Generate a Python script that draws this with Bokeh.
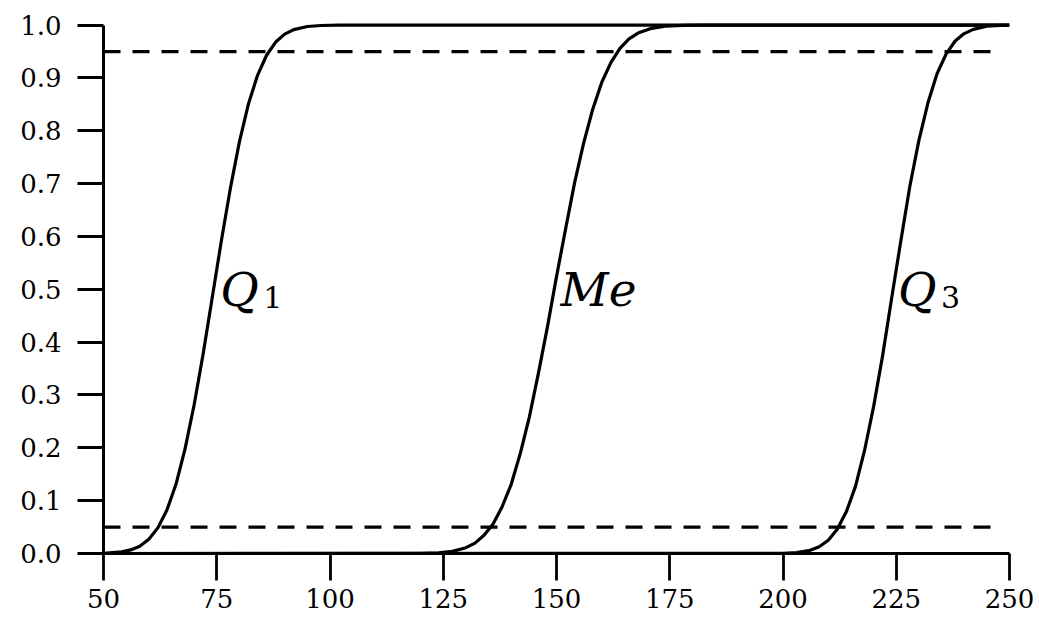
from bokeh.plotting import figure
from bokeh.models import Range1d, FixedTicker, ColumnDataSource
from bokeh.embed import file_html
from bokeh.resources import INLINE
from bokeh.core.properties import value

# Sampling distributions of the first quartile, median and third quartile
q1_x = [50, 54, 56, 58, 60, 62, 64, 66, 68, 70, 72, 74, 76, 78, 80, 82, 84,
        86, 88, 90, 92, 95, 98, 102, 250]
q1_p = [0.0005, 0.003, 0.0068, 0.0139, 0.0268, 0.0485, 0.0823, 0.131, 0.198,
        0.281, 0.378, 0.484, 0.591, 0.691, 0.779, 0.851, 0.905, 0.943, 0.968,
        0.983, 0.9916, 0.9974, 0.9993, 1.0, 1.0]

me_x = [50, 120, 124, 127, 130, 132, 134, 136, 138, 140, 142, 144, 146, 148,
        150, 152, 154, 156, 158, 160, 162, 164, 166, 168, 171, 174, 178, 182, 250]
me_p = [0.0, 0.0003, 0.0013, 0.004, 0.011, 0.0197, 0.0344, 0.0559, 0.0885,
        0.131, 0.189, 0.258, 0.341, 0.429, 0.524, 0.614, 0.702, 0.777, 0.841,
        0.892, 0.929, 0.956, 0.974, 0.985, 0.994, 0.998, 0.9996, 1.0, 1.0]

q3_x = [50, 196, 200, 203, 206, 208, 210, 212, 214, 216, 218, 220, 222, 224,
        226, 228, 230, 232, 234, 236, 238, 240, 242, 245, 248, 250]
q3_p = [0.0, 0.0001, 0.0004, 0.0018, 0.006, 0.0129, 0.025, 0.0465, 0.0793,
        0.127, 0.195, 0.278, 0.375, 0.484, 0.591, 0.695, 0.782, 0.853, 0.908,
        0.945, 0.970, 0.984, 0.992, 0.998, 0.9994, 0.9998]

# Reference probability levels (dashed)
band_levels = [0.05, 0.95]
band_from = [50, 50]
band_to = [246, 246]

# Curve labels, anchored where each curve crosses 0.5
label_text = ["Q", "Me", "Q"]
label_x = [75.8, 150.9, 225.4]
label_y = [0.5, 0.5, 0.5]
sub_text = ["1", "3"]
sub_x = [75.8, 225.4]
sub_y = [0.5, 0.5]

x_ticks = [50, 75, 100, 125, 150, 175, 200, 225, 250]
y_ticks = [0.0, 0.1, 0.2, 0.3, 0.4, 0.5, 0.6, 0.7, 0.8, 0.9, 1.0]
y_tick_labels = ["0.0", "0.1", "0.2", "0.3", "0.4", "0.5",
                 "0.6", "0.7", "0.8", "0.9", "1.0"]

p = figure(width=1039, height=619,
           x_range=Range1d(50, 250), y_range=Range1d(0, 1.005),
           min_border_left=103, min_border_right=30,
           min_border_top=22, min_border_bottom=66,
           output_backend="svg", toolbar_location=None)

p.background_fill_color = "white"
p.border_fill_color = "white"
p.outline_line_color = None
p.grid.visible = False

serif = "DejaVu Serif"

for ax in (p.xaxis[0], p.yaxis[0]):
    ax.axis_line_color = "black"
    ax.axis_line_width = 3
    ax.major_tick_line_color = "black"
    ax.major_tick_line_width = 2.8
    ax.major_tick_in = 0
    ax.minor_tick_line_color = None
    ax.major_label_text_font = serif
    ax.major_label_text_font_size = "26px"
    ax.major_label_text_color = "black"

p.xaxis.ticker = FixedTicker(ticks=x_ticks)
p.xaxis.major_tick_out = 27
p.xaxis.major_label_standoff = 8

p.yaxis.ticker = FixedTicker(ticks=y_ticks)
p.yaxis.major_label_overrides = {t: s for t, s in zip(y_ticks, y_tick_labels)}
p.yaxis.major_tick_out = 26
p.yaxis.major_label_standoff = 16
p.yaxis.bounds = (0, 1)

# dashed reference levels
p.segment(x0=band_from, y0=band_levels, x1=band_to, y1=band_levels,
          line_color="black", line_width=3.2, line_dash="17 12")

for xs, ps in ((q1_x, q1_p), (me_x, me_p), (q3_x, q3_p)):
    p.line(xs, ps, line_color="black", line_width=3.2, line_join="round")

lab_src = ColumnDataSource(dict(x=label_x, y=label_y, t=label_text))
p.text(x="x", y="y", text="t", source=lab_src,
       text_font=value(serif), text_font_style="italic",
       text_font_size="47px", text_color="black",
       text_baseline="alphabetic", text_align="left", y_offset=0)

sub_src = ColumnDataSource(dict(x=sub_x, y=sub_y, t=sub_text))
p.text(x="x", y="y", text="t", source=sub_src,
       text_font=value(serif), text_font_size="30px", text_color="black",
       text_baseline="alphabetic", text_align="left",
       x_offset=43, y_offset=8)

open("out.html", "w").write(file_html(p, INLINE))
